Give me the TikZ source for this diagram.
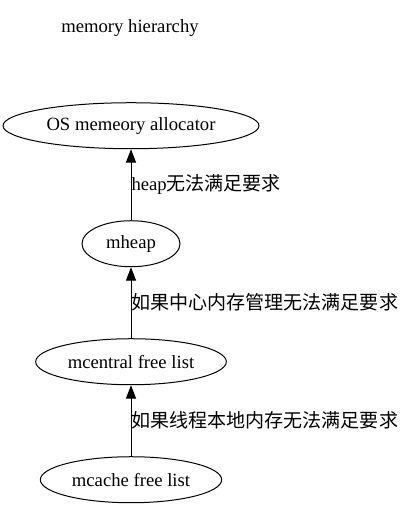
\documentclass[tikz,border=0pt]{standalone}
\usepackage{fontspec}
\setmainfont{Liberation Serif}
\newfontfamily\cjk{Noto Sans CJK SC}[Scale=1.02]
\usetikzlibrary{shapes.geometric,arrows.meta}
\tikzset{
    memnode/.style={draw, ellipse, minimum height=34.5pt, inner sep=0pt, line width=0.75pt, font=\fontsize{14}{16}\selectfont},
    uparrow/.style={line width=0.75pt, -{Triangle[length=10pt,width=7.5pt]}},
    reason/.style={right, inner sep=0pt, font=\fontsize{14}{16}\selectfont}
}
\begin{document}
\begin{tikzpicture}[node distance=88.5pt]
                \useasboundingbox (0,0) rectangle (302.25pt,-381.75pt);
                \node[font=\fontsize{14}{16}\selectfont] (title) at (97.5pt,-21pt) {memory hierarchy};

                \node[memnode, minimum width=136pt] (mcache) at (98.25pt,-359.8pt) {mcache free list};
                \node[memnode, minimum width=143pt, above of=mcache] (mcentral) {mcentral free list};
                \node[memnode, minimum width=73.5pt, above of=mcentral] (mheap) {mheap};
                \node[memnode, minimum width=192pt, above of=mheap] (os) {OS memeory allocator};

                \draw[uparrow] (mcache) -- node[reason] {\cjk 如果线程本地内存无法满足要求} (mcentral);
                \draw[uparrow] (mcentral) -- node[reason] {\cjk 如果中心内存管理无法满足要求} (mheap);
                \draw[uparrow] (mheap) -- node[reason] {heap{\cjk 无法满足要求}} (os);
            \end{tikzpicture}
\end{document}
